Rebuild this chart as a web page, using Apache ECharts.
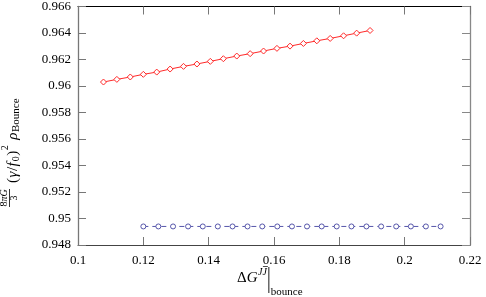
<!DOCTYPE html>
<html><head><meta charset="utf-8">
<script src="https://cdn.jsdelivr.net/npm/echarts@6/dist/echarts.min.js"></script>
<style>html,body{margin:0;padding:0;background:#fff}#c{width:486px;height:297px}</style>
</head><body><div id="c"></div>
<script>
var redX = [0.1078, 0.1119, 0.1160, 0.1200, 0.1241, 0.1282, 0.1323, 0.1364, 0.1405, 0.1445, 0.1486, 0.1527, 0.1568, 0.1609, 0.1649, 0.1690, 0.1731, 0.1772, 0.1813, 0.1853, 0.1894];
var redY = [0.96030, 0.96050, 0.96068, 0.96088, 0.96105, 0.96128, 0.96148, 0.96166, 0.96186, 0.96206, 0.96226, 0.96244, 0.96264, 0.96284, 0.96301, 0.96321, 0.96341, 0.96359, 0.96379, 0.96399, 0.96419];
var blueX = [0.1200, 0.1246, 0.1291, 0.1337, 0.1382, 0.1428, 0.1473, 0.1519, 0.1564, 0.1610, 0.1655, 0.1701, 0.1746, 0.1792, 0.1837, 0.1883, 0.1928, 0.1974, 0.2019, 0.2065, 0.2110];
var blueY = [0.9494, 0.9494, 0.9494, 0.9494, 0.9494, 0.9494, 0.9494, 0.9494, 0.9494, 0.9494, 0.9494, 0.9494, 0.9494, 0.9494, 0.9494, 0.9494, 0.9494, 0.9494, 0.9494, 0.9494, 0.9494];
var xTicks = {min: 0.1, max: 0.22, interval: 0.02};
var yTicks = {min: 0.948, max: 0.966, interval: 0.002};

var FF = '"Liberation Serif", "DejaVu Serif", serif';
var ctx = document.createElement('canvas').getContext('2d');
function tw(s, size, italic) { ctx.font = (italic ? 'italic ' : '') + size + 'px ' + FF; return ctx.measureText(s).width; }
function txt(s, x, baseline, size, italic) {
  return {type: 'text', x: x, y: baseline + size * 0.22,
    style: {text: s, font: (italic ? 'italic ' : '') + size + 'px ' + FF, fill: '#000', textVerticalAlign: 'bottom', verticalAlign: 'bottom'}};
}
function pairs(xs, ys) { return xs.map(function (v, i) { return [v, ys[i]]; }); }

// y-axis title, laid out in local coordinates, then rotated
var yt = [];
(function () {
  var M = 15, S = 10;
  var fw = 18;
  yt.push({type: 'line', shape: {x1: 0, y1: -7.5, x2: fw, y2: -7.5}, style: {stroke: '#000', lineWidth: 0.8}});
  var w1 = tw('8', S) + tw('πG', S, true);
  yt.push(txt('8', (fw - w1) / 2, -9.5, S));
  yt.push(txt('πG', (fw - w1) / 2 + tw('8', S), -9.5, S, true));
  yt.push(txt('3', (fw - tw('3', S)) / 2, 0, S));
  var x = 24;
  yt.push(txt('(', x, 0, M)); x += tw('(', M) + 0.5;
  yt.push(txt('γ', x, 0, M, true)); x += tw('γ', M, true) + 0.5;
  yt.push(txt('/', x, 0, M)); x += tw('/', M) + 0.5;
  yt.push(txt('f', x, 0, M, true)); x += tw('f', M, true) + 1;
  yt.push(txt('0', x, 2.5, S)); x += tw('0', S) + 0.5;
  yt.push(txt(')', x, 0, M)); x += tw(')', M);
  yt.push(txt('2', x + 0.5, -8.5, S)); x += tw('2', S) + 6;
  yt.push(txt('ρ', x, 0, M, true)); x += tw('ρ', M, true) + 0.5;
  yt.push(txt('Bounce', x, 2.5, 11));
})();

// x-axis title
var xt = [];
(function () {
  var M = 15, S = 10;
  var x = 0;
  xt.push(txt('Δ', x, 0, M)); x += tw('Δ', M);
  xt.push(txt('G', x, 0, M, true)); x += tw('G', M, true) + 0.5;
  xt.push(txt('J', x, -7, S, true)); x += tw('J', S, true);
  xt.push(txt('J', x, -7, S, true));
  xt.push({type: 'line', shape: {x1: x + 0.5, y1: -15.5, x2: x + tw('J', S, true) + 1, y2: -15.5}, style: {stroke: '#000', lineWidth: 0.7}});
  x += tw('J', S, true) + 2;
  xt.push({type: 'line', shape: {x1: x, y1: -15, x2: x, y2: 11}, style: {stroke: '#000', lineWidth: 0.9}});
  x += 2;
  xt.push(txt('bounce', x, 13, 11));
})();

var chart = echarts.init(document.getElementById('c'), null, {renderer: 'canvas'});
var labelStyle = {fontFamily: FF, fontSize: 13, color: '#000'};
chart.setOption({
  animation: false,
  backgroundColor: '#fff',
  grid: {left: 78, right: 16, top: 6, bottom: 52, containLabel: false},
  xAxis: [
    {type: 'value', position: 'bottom', min: xTicks.min, max: xTicks.max, interval: xTicks.interval,
      axisLine: {lineStyle: {color: '#444', width: 1}}, axisTick: {inside: true, length: 8, lineStyle: {color: '#777'}},
      axisLabel: Object.assign({margin: 9}, labelStyle), splitLine: {show: false}},
    {type: 'value', position: 'top', min: xTicks.min, max: xTicks.max, interval: xTicks.interval,
      axisLine: {lineStyle: {color: '#000', width: 1}}, axisTick: {inside: true, length: 8, lineStyle: {color: '#777'}},
      axisLabel: {show: false}, splitLine: {show: false}}
  ],
  yAxis: [
    {type: 'value', position: 'left', min: yTicks.min, max: yTicks.max, interval: yTicks.interval,
      axisLine: {show: true, lineStyle: {color: '#777', width: 1.3}}, axisTick: {show: true, inside: true, length: 8, lineStyle: {color: '#777'}},
      axisLabel: Object.assign({margin: 7}, labelStyle), splitLine: {show: false}},
    {type: 'value', position: 'right', min: yTicks.min, max: yTicks.max, interval: yTicks.interval,
      axisLine: {show: true, lineStyle: {color: '#888', width: 1.3}}, axisTick: {show: true, inside: true, length: 8, lineStyle: {color: '#888'}},
      axisLabel: {show: false}, splitLine: {show: false}}
  ],
  series: [
    {type: 'line', data: pairs(redX, redY), symbol: 'diamond', symbolSize: 6, showSymbol: true,
      lineStyle: {color: '#ff2a2a', width: 1}, itemStyle: {color: '#fff', borderColor: '#ff2a2a', borderWidth: 1}, z: 3},
    {type: 'line', data: pairs(blueX, blueY), symbol: 'circle', symbolSize: 5, showSymbol: true,
      lineStyle: {color: '#5555aa', width: 1, type: [5, 4]}, itemStyle: {color: '#fff', borderColor: '#5555aa', borderWidth: 1}, z: 3}
  ],
  graphic: [
    {type: 'group', x: 17, y: 207, rotation: Math.PI / 2, children: yt},
    {type: 'group', x: 237, y: 282, children: xt}
  ]
});
</script></body></html>
